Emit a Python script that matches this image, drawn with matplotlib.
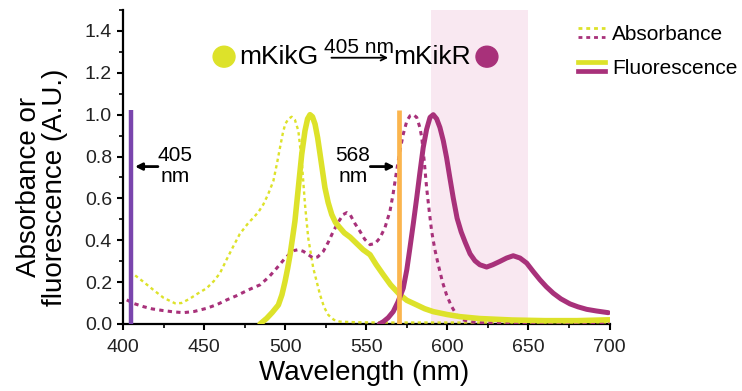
import matplotlib
matplotlib.use("Agg")
import matplotlib.pyplot as plt
from matplotlib.lines import Line2D
from matplotlib.legend_handler import HandlerBase
from matplotlib.ticker import MultipleLocator, FormatStrFormatter
from matplotlib.patches import Ellipse

plt.rcParams['font.family'] = ['Liberation Sans', 'DejaVu Sans']

# ---------------- data ----------------
abs_g_wl = [407.5, 412, 418.7, 425, 432, 436, 441, 446, 451.6, 456, 459.8, 464, 468, 472, 477.3, 480.3,
            483.5, 486.5, 489.5, 492.7, 495, 496.8, 498.5, 500, 502, 504, 506, 508.1, 510.2, 512.2, 514.2,
            517.3, 521.5, 524, 526.6, 530, 533.8, 545, 560, 600, 650, 700]
abs_g_val = [0.232, 0.205, 0.163, 0.125, 0.099, 0.1, 0.12, 0.145, 0.171, 0.205, 0.243, 0.31, 0.371, 0.43,
             0.483, 0.507, 0.535, 0.571, 0.62, 0.683, 0.77, 0.843, 0.91, 0.955, 0.98, 0.99, 0.975, 0.923,
             0.779, 0.571, 0.411, 0.267, 0.139, 0.08, 0.043, 0.02, 0.011, 0.008, 0.007, 0.007, 0.007, 0.008]

fl_g_wl = [484.5, 488.6, 492, 495.8, 498, 499.9, 501.5, 503, 504.5, 506, 508.1, 510.2, 512.2, 513.8, 515.3,
           516.8, 518.4, 520, 521.5, 524.5, 526.5, 528.7, 531, 533.8, 536.5, 540, 544, 548, 552.3, 556,
           560.5, 565, 570.8, 575, 581.1, 586, 591.3, 600, 607.8, 620, 640, 660, 680, 700]
fl_g_val = [0.0, 0.027, 0.055, 0.091, 0.14, 0.203, 0.265, 0.331, 0.41, 0.491, 0.651, 0.811, 0.923, 0.98, 1.0,
            0.99, 0.955, 0.89, 0.811, 0.651, 0.58, 0.523, 0.485, 0.459, 0.435, 0.415, 0.385, 0.355, 0.331,
            0.285, 0.235, 0.187, 0.139, 0.113, 0.091, 0.073, 0.059, 0.045, 0.035, 0.026, 0.019, 0.016, 0.016, 0.02]

abs_r_wl = [402.3, 407, 412.5, 418, 424.8, 431, 437.2, 444, 451.6, 458, 463.9, 470, 477.3, 484.5, 490, 494.8,
            500, 505, 508, 511.2, 514, 517.3, 520, 523.5, 526.5, 529.7, 533, 535.8, 538, 540, 543, 546.1,
            549, 552.3, 555.5, 558.4, 561.5, 564.6, 566.5, 568.7, 570.8, 572.8, 575, 577, 579, 581.1, 583,
            584.2, 585.7, 587.2, 588.8, 590.3, 592.3, 594.4, 597, 599.5, 602.5, 605.7, 609, 613, 620, 640,
            660, 700]
abs_r_val = [0.115, 0.097, 0.083, 0.072, 0.064, 0.058, 0.054, 0.06, 0.075, 0.093, 0.115, 0.135, 0.163, 0.187,
             0.225, 0.267, 0.315, 0.35, 0.355, 0.347, 0.332, 0.315, 0.32, 0.347, 0.39, 0.443, 0.49, 0.523,
             0.532, 0.523, 0.48, 0.443, 0.405, 0.379, 0.385, 0.411, 0.46, 0.539, 0.62, 0.731, 0.83, 0.907,
             0.97, 0.995, 1.0, 0.987, 0.94, 0.891, 0.78, 0.651, 0.54, 0.443, 0.355, 0.283, 0.2, 0.139, 0.085,
             0.043, 0.022, 0.012, 0.006, 0.004, 0.003, 0.003]

fl_r_wl = [558, 560.5, 563.5, 566.6, 569.5, 572.8, 575, 576.9, 579, 581.1, 583, 585.1, 587.2, 589.3, 591.3,
           593.4, 595.4, 597.5, 599.5, 601.5, 603.6, 606, 608.5, 611, 614, 617, 620, 624.2, 628, 632.4, 636.5,
           640.6, 644.8, 648.9, 653, 657.1, 661, 665.3, 670, 675.6, 680.5, 685.9, 692, 699.2]
fl_r_val = [0.0, 0.011, 0.03, 0.059, 0.105, 0.171, 0.26, 0.363, 0.48, 0.603, 0.72, 0.843, 0.93, 0.987, 1.0,
            0.98, 0.939, 0.875, 0.795, 0.7, 0.603, 0.505, 0.44, 0.39, 0.335, 0.302, 0.283, 0.272, 0.283, 0.299,
            0.315, 0.326, 0.315, 0.291, 0.25, 0.211, 0.178, 0.147, 0.12, 0.096, 0.082, 0.07, 0.062, 0.054]

excite_405 = 405
excite_568 = 570
laser_top = 1.02
band = (590, 650)

x_ticks = [400, 450, 500, 550, 600, 650, 700]
y_ticks = [0.0, 0.2, 0.4, 0.6, 0.8, 1.0, 1.2, 1.4]
legend_labels = ["Absorbance", "Fluorescence"]

# ---------------- style ----------------
GREEN = "#dde22a"
MAGENTA = "#a8317a"
PURPLE = "#7a45ad"
ORANGE = "#fbb54e"
PINK = "#f9e8f1"
DOT = (0, (1.4, 1.4))

fig = plt.figure(figsize=(7.42, 3.91), dpi=100)
ax = fig.add_axes([0.1658, 0.1714, 0.6557, 0.803])

ax.axvspan(*band, color=PINK, lw=0, zorder=0)

ax.plot(abs_g_wl, abs_g_val, color=GREEN, lw=1.7, ls=DOT, zorder=3)
ax.plot(abs_r_wl, abs_r_val, color=MAGENTA, lw=2.2, ls=DOT, zorder=3)
ax.plot(fl_g_wl, fl_g_val, color=GREEN, lw=4.0, zorder=4, solid_capstyle='round', solid_joinstyle='round')
ax.plot(fl_r_wl, fl_r_val, color=MAGENTA, lw=3.6, zorder=4, solid_capstyle='round', solid_joinstyle='round')

ax.plot([excite_405, excite_405], [0, laser_top], color=PURPLE, lw=3.2, zorder=5, solid_capstyle='butt')
ax.plot([excite_568, excite_568], [0, laser_top], color=ORANGE, lw=3.4, zorder=5, solid_capstyle='butt')

ax.set_xlim(400, 700)
ax.set_ylim(0, 1.5)
ax.set_xticks(x_ticks)
ax.set_yticks(y_ticks)
ax.yaxis.set_major_formatter(FormatStrFormatter('%.1f'))
ax.xaxis.set_minor_locator(MultipleLocator(25))
ax.yaxis.set_minor_locator(MultipleLocator(0.1))
for s in ['top', 'right']:
    ax.spines[s].set_visible(False)
for s in ['left', 'bottom']:
    ax.spines[s].set_linewidth(1.6)
ax.tick_params(axis='both', which='major', length=4, width=1.5, labelsize=14)
ax.tick_params(axis='x', which='major', pad=7)
ax.tick_params(axis='y', which='major', pad=4)
ax.tick_params(axis='both', which='minor', length=3, width=1.2)
ax.tick_params(axis='both', which='both', color='black', labelcolor='#222222')

ax.set_xlabel("Wavelength (nm)", fontsize=20)
ax.xaxis.set_label_coords(0.495, -0.115)
ax.set_ylabel("Absorbance or\nfluorescence (A.U.)", fontsize=20, linespacing=1.0)
ax.yaxis.set_label_coords(-0.113, 0.435)

# annotations
arrow_kw = dict(arrowstyle='-|>', color='black', lw=2, mutation_scale=10, shrinkA=0, shrinkB=0)
ax.annotate("", xy=(407.4, 0.752), xytext=(421.5, 0.752), arrowprops=arrow_kw, zorder=6)
ax.text(432, 0.755, "405\nnm", ha='center', va='center', fontsize=15, linespacing=1.15)
ax.annotate("", xy=(567.5, 0.752), xytext=(552.5, 0.752), arrowprops=arrow_kw, zorder=6)
ax.text(541.8, 0.755, "568\nnm", ha='center', va='center', fontsize=15, linespacing=1.15)

# conversion scheme
ax.add_patch(Ellipse((462.3, 1.277), 13.5, 0.1, color=GREEN, zorder=6, clip_on=False))
ax.add_patch(Ellipse((624.4, 1.277), 13.5, 0.1, color=MAGENTA, zorder=6, clip_on=False))
ax.text(471.8, 1.243, "mKikG", ha='left', va='baseline', fontsize=19)
ax.text(566.3, 1.243, "mKikR", ha='left', va='baseline', fontsize=19)
ax.text(545.5, 1.293, "405 nm", ha='center', va='baseline', fontsize=15)
ax.annotate("", xy=(563.5, 1.272), xytext=(528.5, 1.272),
            arrowprops=dict(arrowstyle='->', color='black', lw=1.3, mutation_scale=10, shrinkA=0, shrinkB=0))


# legend with paired lines
class PairHandle:
    def __init__(self, ls, lw):
        self.ls = ls
        self.lw = lw


class PairHandler(HandlerBase):
    def create_artists(self, legend, orig_handle, xdescent, ydescent, width, height, fontsize, trans):
        arts = []
        for i, c in enumerate([GREEN, MAGENTA]):
            y = height / 2 + (3.2 if i == 0 else -3.2) - ydescent
            ln = Line2D([-xdescent, -xdescent + width], [y, y], color=c,
                        lw=orig_handle.lw, linestyle=orig_handle.ls)
            ln.set_transform(trans)
            arts.append(ln)
        return arts


handles = [PairHandle(DOT, 2.0), PairHandle('-', 3.4)]
fig.legend(handles, legend_labels, handler_map={PairHandle: PairHandler()},
           loc='upper left', bbox_to_anchor=(578 / 742, 1 - 25 / 391), frameon=False,
           fontsize=15, handlelength=1.3, handletextpad=0.35, borderpad=0, borderaxespad=0,
           labelspacing=0.72)

fig.savefig("out.png", dpi=100)
